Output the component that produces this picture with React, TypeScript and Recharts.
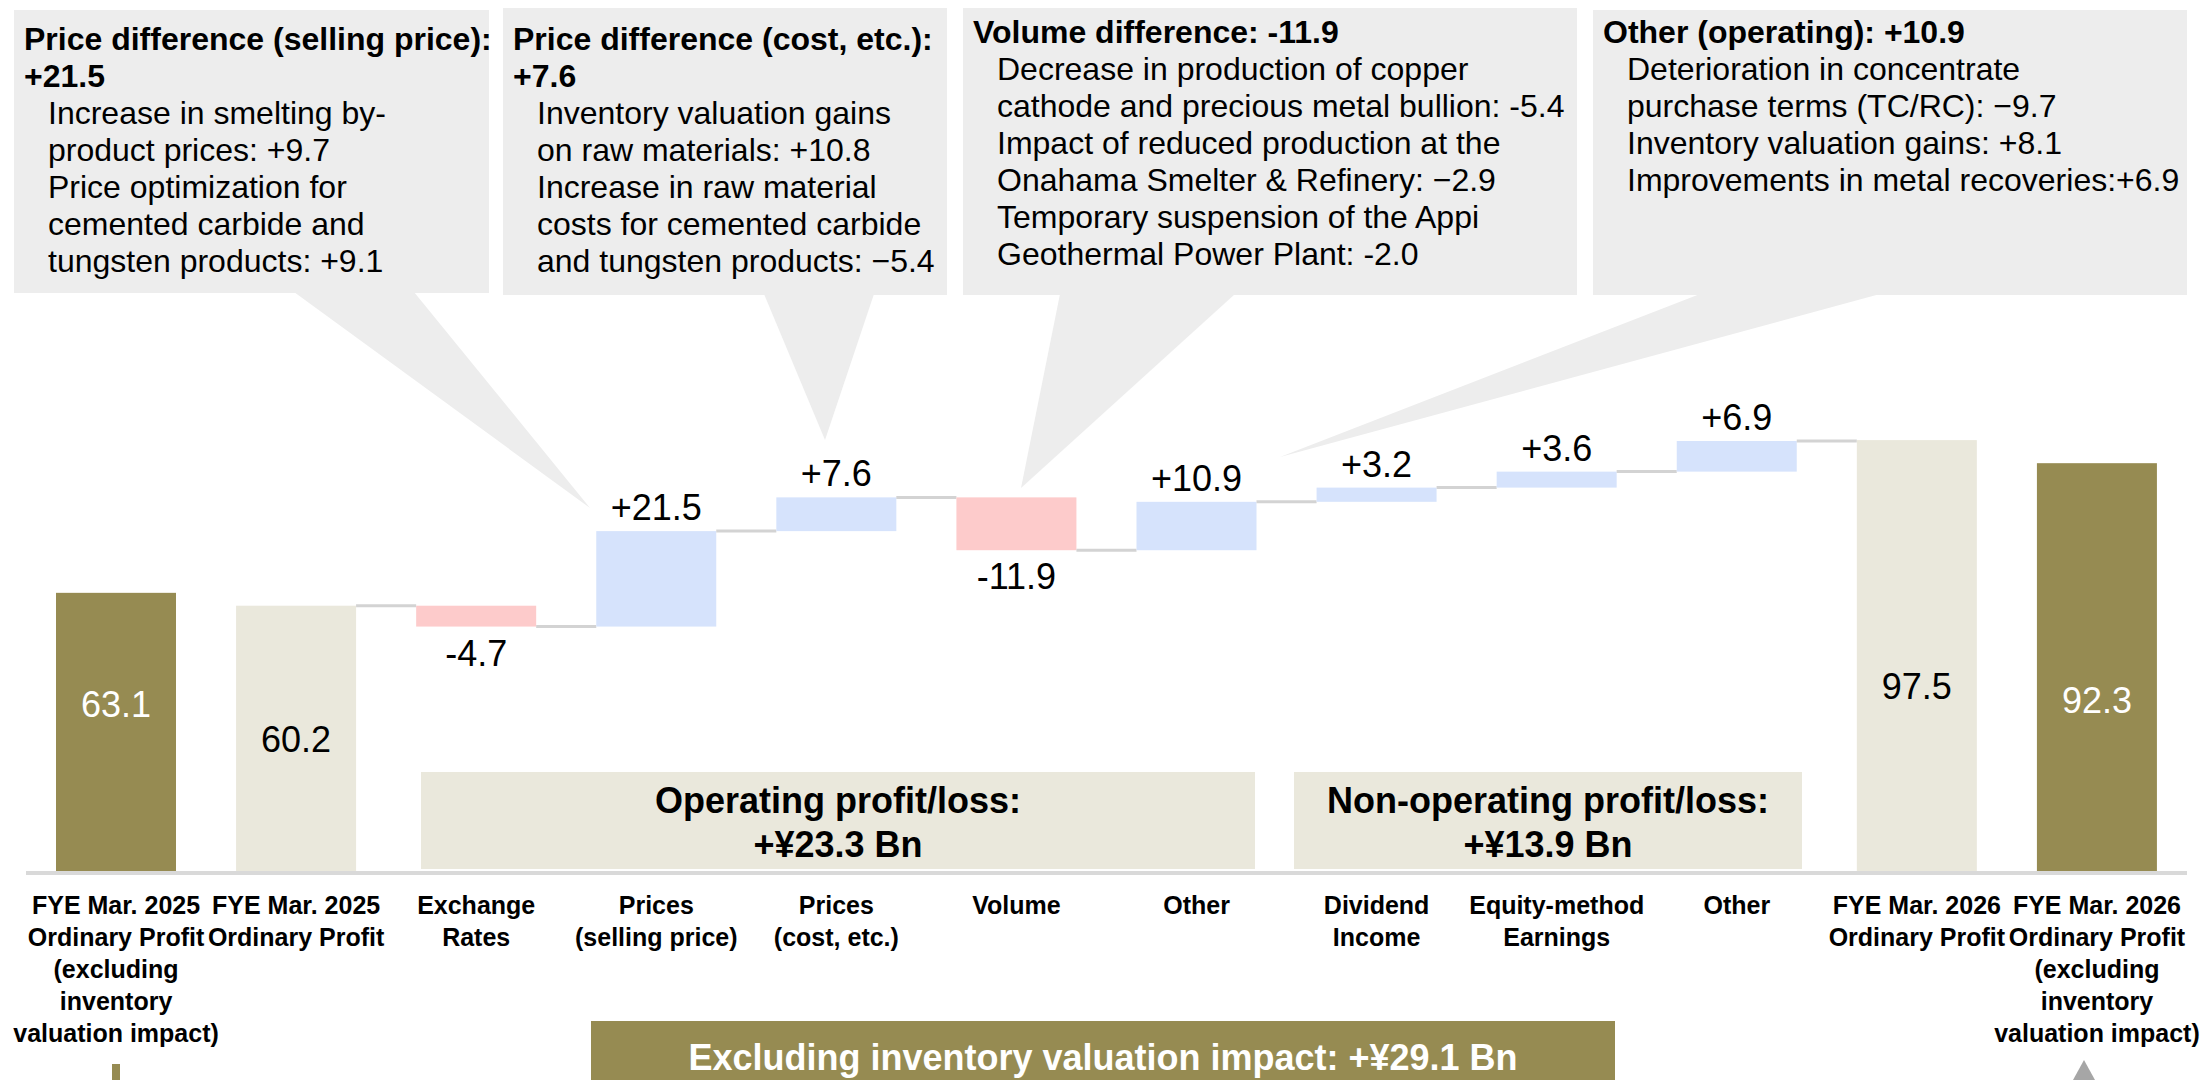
import React from 'react';
import { BarChart, Bar, XAxis, YAxis, Cell, LabelList } from 'recharts';

// ---- data (¥ billion) ----
const categoryLines: string[][] = [
  ['FYE Mar. 2025', 'Ordinary Profit', '(excluding', 'inventory', 'valuation impact)'],
  ['FYE Mar. 2025', 'Ordinary Profit'],
  ['Exchange', 'Rates'],
  ['Prices', '(selling price)'],
  ['Prices', '(cost, etc.)'],
  ['Volume'],
  ['Other'],
  ['Dividend', 'Income'],
  ['Equity-method', 'Earnings'],
  ['Other'],
  ['FYE Mar. 2026', 'Ordinary Profit'],
  ['FYE Mar. 2026', 'Ordinary Profit', '(excluding', 'inventory', 'valuation impact)'],
];
const stepValues = [63.1, 60.2, -4.7, 21.5, 7.6, -11.9, 10.9, 3.2, 3.6, 6.9, 97.5, 92.3];
const stepKinds = ['excl', 'total', 'delta', 'delta', 'delta', 'delta', 'delta', 'delta', 'delta', 'delta', 'total', 'excl'];
const hasConnector = [false, true, true, true, true, true, true, true, true, true, false, false];

const calloutTexts = [
  {
    title: ['Price difference (selling price):', '+21.5'],
    items: ['Increase in smelting by-', 'product prices: +9.7', 'Price optimization for', 'cemented carbide and', 'tungsten products: +9.1'],
  },
  {
    title: ['Price difference (cost, etc.):', '+7.6'],
    items: ['Inventory valuation gains', 'on raw materials: +10.8', 'Increase in raw material', 'costs for cemented carbide', 'and tungsten products: \u22125.4'],
  },
  {
    title: ['Volume difference: -11.9'],
    items: ['Decrease in production of copper', 'cathode and precious metal bullion: -5.4', 'Impact of reduced production at the', 'Onahama Smelter & Refinery: \u22122.9', 'Temporary suspension of the Appi', 'Geothermal Power Plant: -2.0'],
  },
  {
    title: ['Other (operating): +10.9'],
    items: ['Deterioration in concentrate', 'purchase terms (TC/RC): \u22129.7', 'Inventory valuation gains: +8.1', 'Improvements in metal recoveries:+6.9'],
  },
];

const operatingText = ['Operating profit/loss:', '+\u00a523.3 Bn'];
const nonOperatingText = ['Non-operating profit/loss:', '+\u00a513.9 Bn'];
const exclText = 'Excluding inventory valuation impact: +\u00a529.1 Bn';

// ---- styles / layout ----
const W = 2208;
const H = 1080;
const MARGIN = { top: 207, right: 21, bottom: 7, left: 26 };
const BAR_SIZE = 120;
const BAND = (W - MARGIN.left - MARGIN.right) / stepValues.length;
const GAP = BAND - BAR_SIZE;

const OLIVE = '#968B52';
const BEIGE = '#EAE8DC';
const BLUE = '#D6E3FC';
const PINK = '#FDCBCB';
const CALLOUT = '#EDEDED';
const CONNECT = '#D3D3D3';
const FONT = 'Arial, "Liberation Sans", Helvetica, sans-serif';

const calloutBoxes = [
  { left: 14, top: 10, width: 475, height: 283, padTop: 11 },
  { left: 503, top: 8, width: 444, height: 287, padTop: 13 },
  { left: 963, top: 8, width: 614, height: 287, padTop: 6 },
  { left: 1593, top: 10, width: 594, height: 285, padTop: 4 },
];
const pointers = [
  '294,292 414,292 590,508',
  '764,294 874,294 825,440',
  '1060,294 1235,294 1021,488',
  '1700,294 1880,294 1280,457',
];
const totalLabelShift = [-29, 0, 0, 0, 0, 0, 0, 0, 0, 0, 29, 32];

// build waterfall rows
let running = 0;
const rows = stepValues.map((v, i) => {
  const kind = stepKinds[i];
  let base = 0;
  let size = v;
  if (kind === 'delta') {
    if (v >= 0) {
      base = running;
      running += v;
    } else {
      running += v;
      base = running;
      size = -v;
    }
  } else if (kind === 'total') {
    running = v;
  }
  return { name: String(i), base, size, value: v, kind };
});

function fillFor(row: { kind: string; value: number }) {
  if (row.kind === 'excl') return OLIVE;
  if (row.kind === 'total') return BEIGE;
  return row.value >= 0 ? BLUE : PINK;
}

function fmt(row: { kind: string; value: number }) {
  if (row.kind !== 'delta') return row.value.toFixed(1);
  return (row.value >= 0 ? '+' : '') + row.value.toFixed(1);
}

const StepShape = (props: any) => {
  const { x, y, width, height, index } = props;
  const row = rows[index];
  const level = row.kind === 'delta' && row.value < 0 ? y + height : y;
  return (
    <g>
      <rect x={x} y={y} width={width} height={height} fill={fillFor(row)} />
      {hasConnector[index] && (
        <line x1={x + width} x2={x + width + GAP} y1={level} y2={level} stroke={CONNECT} strokeWidth={3} />
      )}
    </g>
  );
};

const StepLabel = (props: any) => {
  const { x, y, width, height, index } = props;
  const row = rows[index];
  const cx = x + width / 2;
  if (row.kind !== 'delta') {
    return (
      <text x={cx} y={y + height / 2 + totalLabelShift[index]} dy={13} textAnchor="middle" fontSize={36}
        fill={row.kind === 'excl' ? '#FFFFFF' : '#000000'} fontFamily={FONT}>
        {fmt(row)}
      </text>
    );
  }
  const ty = row.value >= 0 ? y - 11 : y + height + 39;
  return (
    <text x={cx} y={ty} textAnchor="middle" fontSize={36} fill="#000000" fontFamily={FONT}>
      {fmt(row)}
    </text>
  );
};

const CategoryTick = (props: any) => {
  const { x, y, index } = props;
  const lines = categoryLines[index] || [];
  return (
    <text x={x} y={y} textAnchor="middle" fontSize={25} fontWeight={700} fill="#000000" fontFamily={FONT}>
      {lines.map((l, i) => (
        <tspan key={i} x={x} dy={i === 0 ? 33 : 32}>{l}</tspan>
      ))}
    </text>
  );
};

function Callout({ box, text }: { box: typeof calloutBoxes[number]; text: typeof calloutTexts[number] }) {
  return (
    <div
      style={{
        position: 'absolute', left: box.left, top: box.top, width: box.width, height: box.height,
        background: CALLOUT, boxSizing: 'border-box', paddingTop: box.padTop, paddingLeft: 10,
        fontSize: 32, lineHeight: '37px', color: '#000', whiteSpace: 'nowrap',
      }}
    >
      {text.title.map((t, i) => (
        <div key={'t' + i} style={{ fontWeight: 700 }}>{t}</div>
      ))}
      {text.items.map((t, i) => (
        <div key={'i' + i} style={{ paddingLeft: 24 }}>{t}</div>
      ))}
    </div>
  );
}

function GroupBox({ left, width, lines }: { left: number; width: number; lines: string[] }) {
  return (
    <div
      style={{
        position: 'absolute', left, top: 772, width, height: 97, background: BEIGE,
        boxSizing: 'border-box', paddingTop: 7, textAlign: 'center', fontWeight: 700,
        fontSize: 36, lineHeight: '44px', color: '#000',
      }}
    >
      {lines.map((l, i) => <div key={i}>{l}</div>)}
    </div>
  );
}

export default function App() {
  return (
    <div style={{ position: 'absolute', left: 0, top: 0, width: W, height: H, background: '#fff', overflow: 'hidden', fontFamily: FONT }}>
      <svg width={W} height={H} style={{ position: 'absolute', left: 0, top: 0 }}>
        {pointers.map((p, i) => <polygon key={i} points={p} fill={CALLOUT} />)}
        <rect x={112} y={1064} width={8} height={20} fill={OLIVE} />
        <polygon points="2073,1080 2095,1080 2084,1060" fill="#A6A6A6" />
      </svg>
      {calloutBoxes.map((b, i) => <Callout key={i} box={b} text={calloutTexts[i]} />)}
      <GroupBox left={421} width={834} lines={operatingText} />
      <GroupBox left={1294} width={508} lines={nonOperatingText} />
      <div style={{ position: 'absolute', left: 0, top: 0 }}>
        <BarChart width={W} height={H} data={rows} margin={MARGIN} barSize={BAR_SIZE}>
          <XAxis dataKey="name" tick={<CategoryTick />} tickLine={false} interval={0} height={200}
            axisLine={{ stroke: '#D9D9D9', strokeWidth: 4 }} />
          <YAxis hide domain={[0, 150]} />
          <Bar dataKey="base" stackId="w" fill="transparent" isAnimationActive={false} />
          <Bar dataKey="size" stackId="w" shape={StepShape} isAnimationActive={false}>
            {rows.map((r, i) => <Cell key={i} fill={fillFor(r)} />)}
            <LabelList dataKey="size" content={StepLabel} />
          </Bar>
        </BarChart>
      </div>
      <div
        style={{
          position: 'absolute', left: 591, top: 1021, width: 1024, height: 80, background: OLIVE,
          color: '#fff', fontWeight: 700, fontSize: 36, textAlign: 'center', boxSizing: 'border-box', paddingTop: 16,
          whiteSpace: 'nowrap',
        }}
      >
        {exclText}
      </div>
    </div>
  );
}
